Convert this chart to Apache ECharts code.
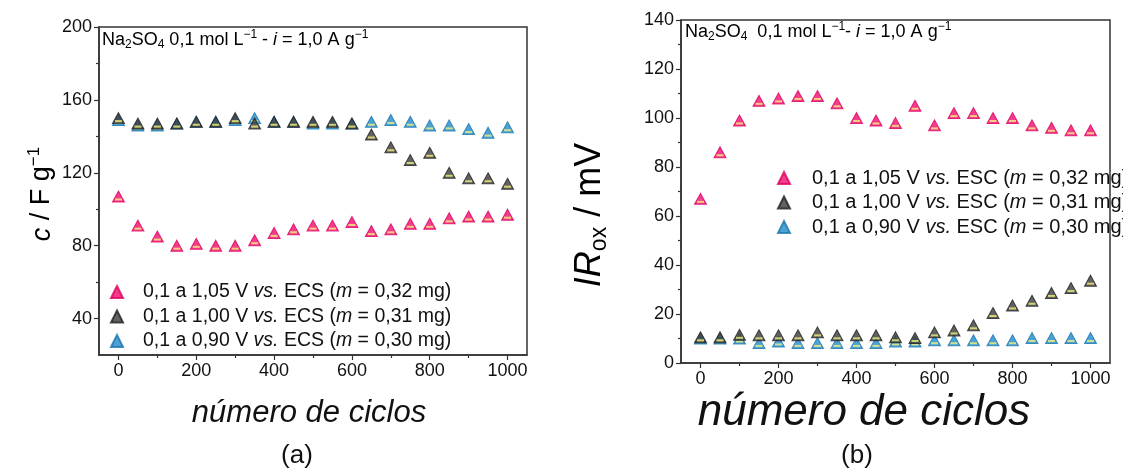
<!DOCTYPE html>
<html>
<head>
<meta charset="utf-8">
<script src="https://cdn.jsdelivr.net/npm/echarts@6/dist/echarts.min.js"></script>
<style>
html, body { margin: 0; background: #fff; }
#chart { width: 1123px; height: 468px; }
</style>
</head>
<body>
<div id="chart"></div>
<script>
// ciclos (eixo x comum)
var ciclos = [0, 50, 100, 150, 200, 250, 300, 350, 400, 450, 500, 550, 600, 650, 700, 750, 800, 850, 900, 950, 1000];

// (a) capacitancia especifica, F g-1
var capA105 = [107, 91, 85, 80, 81, 80, 80, 83, 87, 89, 91, 91, 93, 88, 89, 92, 92, 95, 96, 96, 97];
var capA100 = [150, 147, 147, 147, 148, 148, 150, 147, 148, 148, 148, 148, 147, 141, 134, 127, 131, 120, 117, 117, 114];
var capA090 = [149, 146, 146, 147, 148, 148, 149, 150, 148, 148, 147, 147, 147, 148, 149, 148, 146, 146, 144, 142, 145];

// (b) queda ohmica IR_ox, mV
var irB105 = [67, 86, 99, 107, 108, 109, 109, 106, 100, 99, 98, 105, 97, 102, 102, 100, 100, 97, 96, 95, 95];
var irB100 = [10.5, 10.5, 11.5, 11.3, 11.3, 11.3, 12.5, 11.3, 11.3, 11.3, 10.5, 10.2, 12.5, 13.3, 15.4, 20.4, 23.5, 25.4, 28.6, 30.6, 33.6];
var irB090 = [10, 10, 10, 8.2, 8.8, 8.2, 8.2, 8.2, 8.2, 8.2, 8.8, 8.8, 9.3, 9.3, 9.3, 9.3, 9.3, 10.2, 10.2, 10.2, 10.2];

var xTicks = [0, 200, 400, 600, 800, 1000];
var xMinor = [100, 300, 500, 700, 900];
var yTicksA = [40, 80, 120, 160, 200];
var yMinorA = [60, 100, 140, 180];
var yTicksB = [0, 20, 40, 60, 80, 100, 120, 140];
var yMinorB = [10, 30, 50, 70, 90, 110, 130];

var legendA = {
  a105: '0,1 a 1,05 V {i|vs.} ECS ({i|m} = 0,32 mg)',
  a100: '0,1 a 1,00 V {i|vs.} ECS ({i|m} = 0,31 mg)',
  a090: '0,1 a 0,90 V {i|vs.} ECS ({i|m} = 0,30 mg)'
};
var legendB = {
  b105: '0,1 a 1,05 V {i|vs.} ESC ({i|m} = 0,32 mg)',
  b100: '0,1 a 1,00 V {i|vs.} ESC ({i|m} = 0,31 mg)',
  b090: '0,1 a 0,90 V {i|vs.} ESC ({i|m} = 0,30 mg)'
};

var font = 'Liberation Sans, Arial, sans-serif';
var axisColor = '#333';
var pink = '#ee0c70', dark = '#3b3b3b', blue = '#1f8bcb', stripe = '#f4f07a';

function pairs(arr) {
  return ciclos.map(function (c, i) { return [c, arr[i]]; });
}

function mainAxis(grid, min, max, ticks, pos) {
  return {
    gridIndex: grid, type: 'value', min: min, max: max, position: pos,
    axisLine: { onZero: false, lineStyle: { color: axisColor, width: 1.5 } },
    axisTick: { customValues: ticks, length: 5, lineStyle: { color: axisColor, width: 1.2 } },
    axisLabel: {
      customValues: ticks, fontSize: 18, color: '#111', fontFamily: font, margin: 7,
      formatter: function (v) { return String(v); }
    },
    splitLine: { show: false }
  };
}
function minorAxis(grid, min, max, ticks, pos) {
  return {
    gridIndex: grid, type: 'value', min: min, max: max, position: pos,
    axisLine: { show: false, onZero: false },
    axisTick: { customValues: ticks, length: 3, lineStyle: { color: axisColor, width: 1.2 } },
    axisLabel: { show: false },
    splitLine: { show: false }
  };
}

function tri(name, color, border, data, xi, yi) {
  return {
    name: name, type: 'scatter', xAxisIndex: xi, yAxisIndex: yi,
    symbol: 'triangle', symbolSize: [12, 11],
    itemStyle: { color: color, borderColor: border, borderWidth: 1 },
    data: pairs(data)
  };
}
function bar(name, data, xi, yi) {
  return {
    name: name, type: 'scatter', xAxisIndex: xi, yAxisIndex: yi,
    symbol: 'rect', symbolSize: [7, 2], symbolOffset: [0, 3],
    itemStyle: { color: stripe }, silent: true,
    data: pairs(data)
  };
}

var richBase = {
  t: { fontSize: 18, fontFamily: font, color: '#111', lineHeight: 22, verticalAlign: 'middle' },
  it: { fontSize: 18, fontFamily: font, color: '#111', fontStyle: 'italic', lineHeight: 22, verticalAlign: 'middle' },
  sub: { fontSize: 12, fontFamily: font, color: '#111', lineHeight: 12, verticalAlign: 'bottom' },
  sup: { fontSize: 12, fontFamily: font, color: '#111', lineHeight: 12, verticalAlign: 'top' }
};
function richTitle(size) {
  var s = Math.round(size * 0.64);
  return {
    t: { fontSize: size, fontFamily: font, color: '#111', lineHeight: size + 6, verticalAlign: 'middle' },
    it: { fontSize: size, fontFamily: font, color: '#111', fontStyle: 'italic', lineHeight: size + 6, verticalAlign: 'middle' },
    sub: { fontSize: s, fontFamily: font, color: '#111', lineHeight: s, verticalAlign: 'bottom' },
    sup: { fontSize: s, fontFamily: font, color: '#111', lineHeight: s, verticalAlign: 'top' }
  };
}

function legendCfg(map, left, top, size, pad) {
  return {
    orient: 'vertical', left: left, top: top,
    itemWidth: 12, itemHeight: 12, itemGap: 4.5,
    data: Object.keys(map).map(function (k) { return { name: k, icon: 'triangle' }; }),
    formatter: function (n) { return map[n]; },
    textStyle: {
      fontSize: size, fontFamily: font, color: '#111', lineHeight: size, padding: [0, 0, 0, pad],
      rich: { i: { fontSize: size, fontFamily: font, color: '#111', fontStyle: 'italic', lineHeight: size } }
    },
    selectedMode: false
  };
}

var chart = echarts.init(document.getElementById('chart'));
chart.setOption({
  animation: false,
  backgroundColor: '#fff',
  grid: [
    { left: 99, top: 27, width: 428, height: 328, show: true, borderColor: axisColor, borderWidth: 1.5 },
    { left: 681, top: 20, width: 429, height: 343, show: true, borderColor: axisColor, borderWidth: 1.5 }
  ],
  xAxis: [
    mainAxis(0, -50, 1050, xTicks, 'bottom'),
    minorAxis(0, -50, 1050, xMinor, 'bottom'),
    mainAxis(1, -50, 1050, xTicks, 'bottom'),
    minorAxis(1, -50, 1050, xMinor, 'bottom')
  ],
  yAxis: [
    mainAxis(0, 20, 200, yTicksA, 'left'),
    minorAxis(0, 20, 200, yMinorA, 'left'),
    mainAxis(1, 0, 140, yTicksB, 'left'),
    minorAxis(1, 0, 140, yMinorB, 'left')
  ],
  legend: [
    legendCfg(legendA, 105, 277, 19.5, 15),
    legendCfg(legendB, 772, 163, 20, 17)
  ],
  series: [
    tri('a090', blue, '#1b75ad', capA090, 0, 0), bar('sa090', capA090, 0, 0),
    tri('a100', dark, '#222', capA100, 0, 0), bar('sa100', capA100, 0, 0),
    tri('a105', pink, '#e0005f', capA105, 0, 0), bar('sa105', capA105, 0, 0),
    tri('b090', blue, '#1b75ad', irB090, 2, 2), bar('sb090', irB090, 2, 2),
    tri('b100', dark, '#222', irB100, 2, 2), bar('sb100', irB100, 2, 2),
    tri('b105', pink, '#e0005f', irB105, 2, 2), bar('sb105', irB105, 2, 2)
  ],
  graphic: [
    { type: 'text', left: 102, top: 29, style: { text: '{t|Na}{sub|2}{t|SO}{sub|4}{t| 0,1 mol L}{sup|−1}{t| - }{it|i}{t| = 1,0 A g}{sup|−1}', rich: richBase } },
    { type: 'text', left: 685, top: 21, style: { text: '{t|Na}{sub|2}{t|SO}{sub|4}{t|  0,1 mol L}{sup|−1}{t|- }{it|i}{t| = 1,0 A g}{sup|−1}', rich: richBase } },
    { type: 'text', x: 42, y: 194, rotation: Math.PI / 2, style: { text: '{it|c}{t| / F g}{sup|−1}', rich: richTitle(27), align: 'center', verticalAlign: 'middle' } },
    { type: 'text', x: 590, y: 215, rotation: Math.PI / 2, style: { text: '{it|IR}{sub|ox}{t| / mV}', rich: richTitle(36), align: 'center', verticalAlign: 'middle' } },
    { type: 'text', x: 309, y: 413, style: { text: 'número de ciclos', font: 'italic 31px ' + font, fill: '#111', align: 'center', verticalAlign: 'middle' } },
    { type: 'text', x: 864, y: 413, style: { text: 'número de ciclos', font: 'italic 44px ' + font, fill: '#111', align: 'center', verticalAlign: 'middle' } },
    { type: 'text', x: 297, y: 456, style: { text: '(a)', font: '26px ' + font, fill: '#111', align: 'center', verticalAlign: 'middle' } },
    { type: 'text', x: 857, y: 456, style: { text: '(b)', font: '26px ' + font, fill: '#111', align: 'center', verticalAlign: 'middle' } }
  ]
});
</script>
</body>
</html>
